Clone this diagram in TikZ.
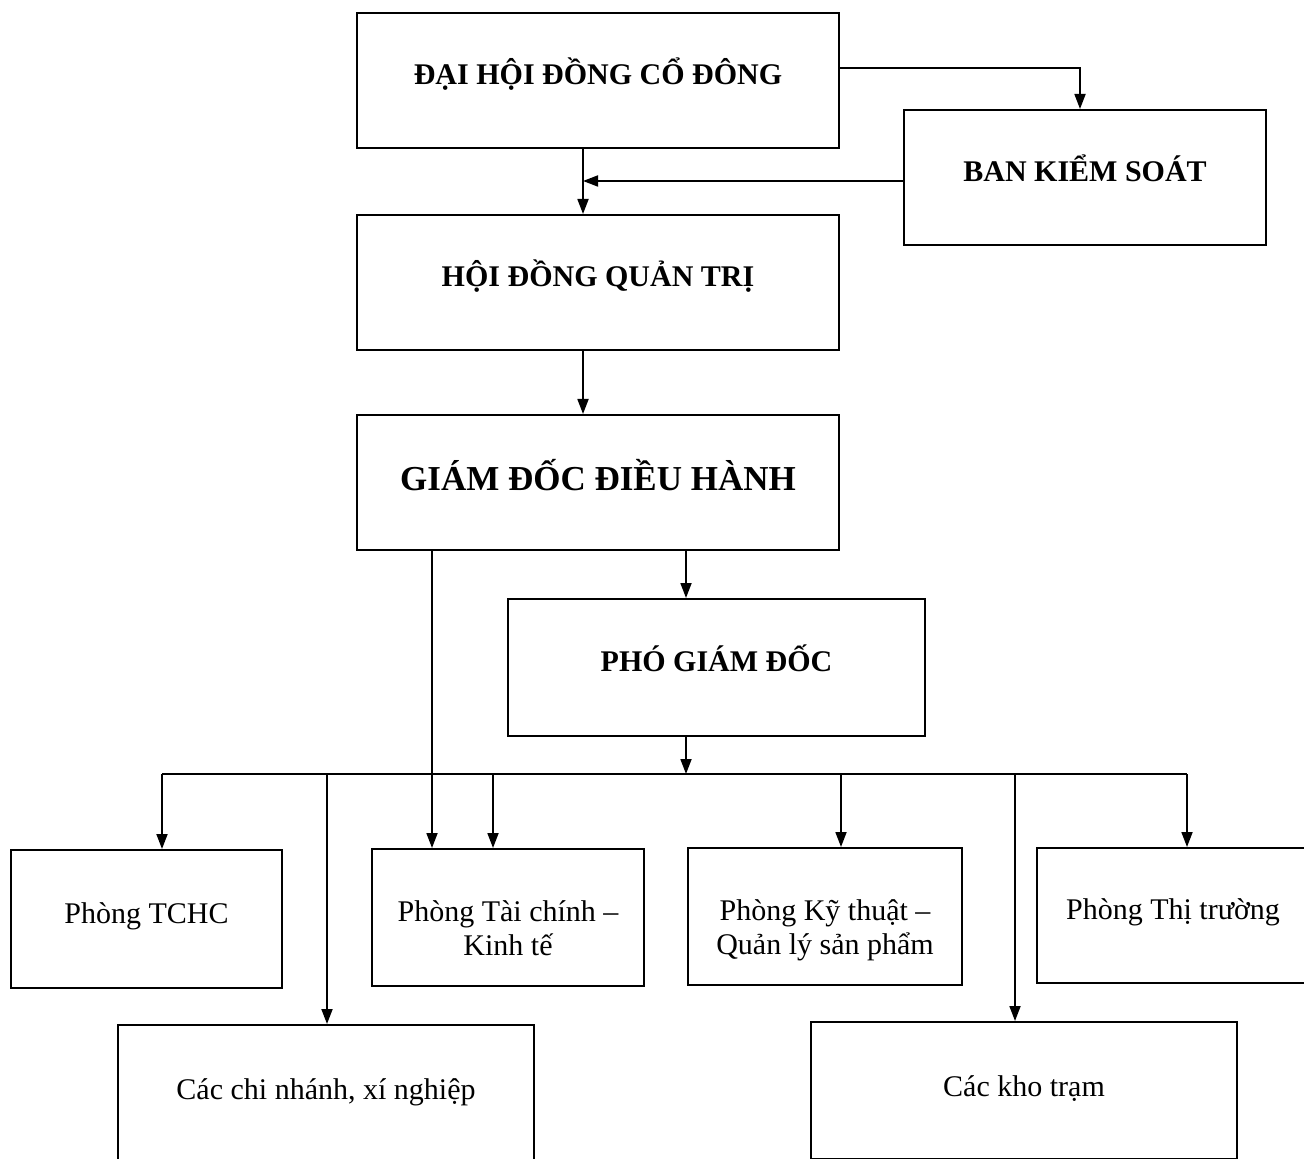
\documentclass[tikz,border=0pt]{standalone}
\usepackage{fontspec}
\setmainfont{Liberation Serif}
\usetikzlibrary{arrows.meta}
\tikzset{
  box/.style={draw, line width=1pt, inner sep=0pt, align=center,
    text height=11pt, text depth=7pt,
    font=\fontsize{15}{17}\selectfont},
  twoline/.style={text height=41pt, text depth=3pt},
  head/.style={box, font=\fontsize{15}{17}\selectfont\bfseries},
  arr/.style={line width=0.9pt, -{Triangle[length=7.5pt,width=5.5pt]}}
}
\begin{document}
\begin{tikzpicture}[x=0.5pt, y=-0.5pt]
    \path[use as bounding box, clip] (0,0) rectangle (1304,1159);
    \node[head, minimum width=241pt, minimum height=67.5pt] (dhdcd) at (598,80.5) {ĐẠI HỘI ĐỒNG CỔ ĐÔNG};
    \node[head, minimum width=181pt, minimum height=67.5pt] (bks) at (1085,177.5) {BAN KIỂM SOÁT};
    \node[head, minimum width=241pt, minimum height=67.5pt] (hdqt) at (598,282.5) {HỘI ĐỒNG QUẢN TRỊ};
    \node[head, minimum width=241pt, minimum height=67.5pt, text height=12pt, text depth=4pt, font=\fontsize{17.5}{20}\selectfont\bfseries] (gddh) at (598,482.5) {GIÁM ĐỐC ĐIỀU HÀNH};
    \node[head, minimum width=208.5pt, minimum height=68.5pt] (pgd) at (716.5,667.5) {PHÓ GIÁM ĐỐC};
    \node[box, minimum width=135.5pt, minimum height=69pt] (tchc) at (146.5,919) {Phòng TCHC};
    \node[box, twoline, minimum width=136pt, minimum height=68.5pt] (tckt) at (508,917.5) {Phòng Tài chính –\\Kinh tế};
    \node[box, twoline, minimum width=137pt, minimum height=68.5pt] (kt) at (825,916.5) {Phòng Kỹ thuật –\\Quản lý sản phẩm};
    \node[box, minimum width=136pt, minimum height=67.5pt] (tt) at (1173,915.5) {Phòng Thị trường};
    \node[box, minimum width=208pt, minimum height=68.5pt, text depth=5.5pt] (cn) at (326,1093.5) {Các chi nhánh, xí nghiệp};
    \node[box, minimum width=213pt, minimum height=68.5pt, text depth=5.5pt] (kho) at (1024,1090.5) {Các kho trạm};
    \coordinate (s) at (583,181);
    \coordinate (m) at (686,774);
    \coordinate (g) at (432,774);
    \draw[arr] ([yshift=6.25pt]dhdcd.east) -| ([xshift=-2.5pt]bks.north);
    \draw[arr] (dhdcd.south -| s) -- (hdqt.north -| s);
    \draw[arr] (bks.west |- s) -- (s);
    \draw[arr] (hdqt.south -| s) -- (gddh.north -| s);
    \draw[arr] (gddh.south -| m) -- (pgd.north -| m);
    \draw[arr] (pgd.south -| m) -- (m);
    \draw[arr] (gddh.south -| g) -- (tckt.north -| g);
    \foreach \x/\t in {162/tchc, 327/cn, 493/tckt, 841/kt, 1015/kho, 1187/tt}
    { \coordinate (b\t) at (\x,774);
      \draw[arr] (b\t) -- (b\t |- \t.north);}
    \draw[line width=0.9pt] (btchc) -- (btt);
  \end{tikzpicture}
\end{document}
